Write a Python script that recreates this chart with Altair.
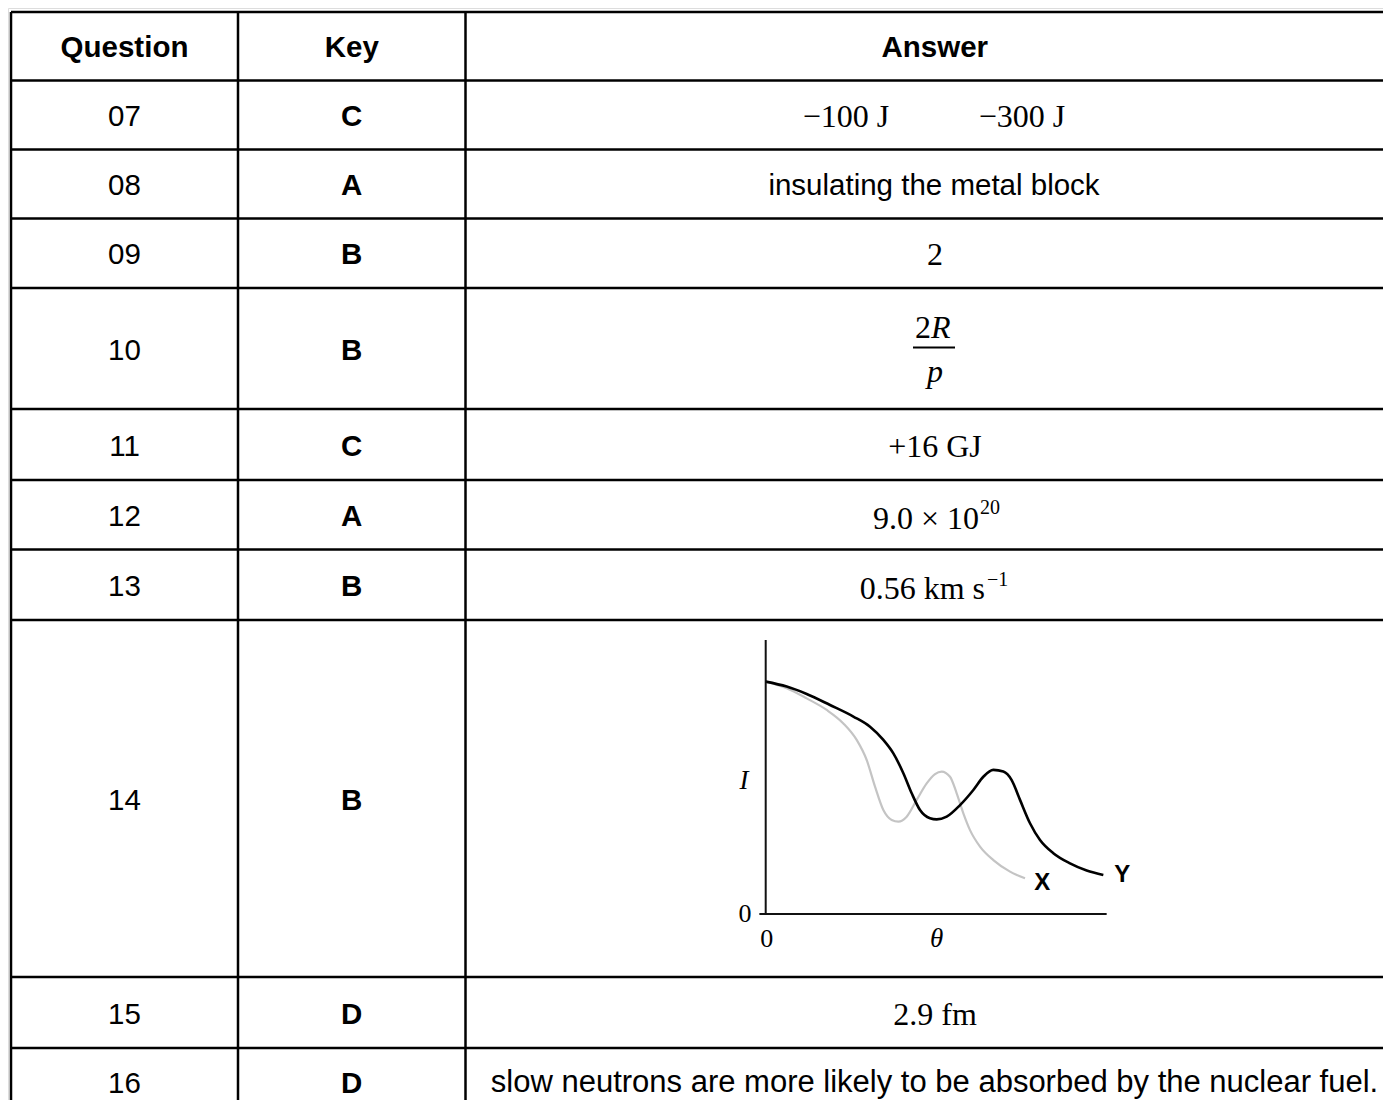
import altair as alt
import pandas as pd

# ---------------- content ----------------
headers = ["Question", "Key", "Answer"]
questions = ["07", "08", "09", "10", "11", "12", "13", "14", "15", "16"]
keys = ["C", "A", "B", "B", "C", "A", "B", "B", "D", "D"]
answer_sans = {1: "insulating the metal block",
               9: "slow neutrons are more likely to be absorbed by the nuclear fuel."}
answer_serif = {2: "2", 4: "+16 GJ", 8: "2.9 fm"}
pair_07 = ["\u2212100 J", "\u2212300 J"]
base_12, sup_12 = "9.0 \u00d7 10", "20"
base_13, sup_13 = "0.56 km s", "\u22121"
frac_num_a, frac_num_b, frac_den = "2", "R", "p"

# graph in row 14 (theta, intensity)
y_theta = [0, 0.63, 1.23, 1.93, 2.63, 3.13, 3.53, 3.83, 4.13, 4.38, 4.63, 4.93, 5.13,
           5.43, 5.83, 6.23, 6.53, 6.83, 7.13, 7.38, 7.63, 7.93, 8.23, 8.63, 9.13, 9.63, 10.13]
y_int = [0.845, 0.827, 0.800, 0.760, 0.718, 0.681, 0.633, 0.584, 0.512, 0.439, 0.378, 0.348,
         0.344, 0.354, 0.396, 0.451, 0.499, 0.524, 0.518, 0.487, 0.415, 0.330, 0.269, 0.221,
         0.184, 0.158, 0.142]
x_theta = [0, 0.63, 1.23, 1.83, 2.33, 2.73, 3.03, 3.28, 3.53, 3.78, 3.98, 4.23, 4.53, 4.83,
           5.08, 5.28, 5.53, 5.73, 5.93, 6.13, 6.43, 6.83, 7.33, 7.78]
x_int = [0.845, 0.821, 0.784, 0.742, 0.693, 0.633, 0.560, 0.463, 0.378, 0.342, 0.336, 0.354,
         0.415, 0.475, 0.509, 0.518, 0.499, 0.439, 0.366, 0.305, 0.245, 0.196, 0.154, 0.130]

# ---------------- layout ----------------
W, H = 1375, 1092
OFF = 8
col_edges = [11, 238, 465.5, 1404]
row_edges = [12, 80.5, 149.5, 218.5, 288, 409, 480, 549.5, 620, 977, 1048, 1116]
SANS, SERIF = "Liberation Sans", "Liberation Serif"
LW = 2.5
FS_SANS, FS_LONG, FS_SERIF, FS_SUP = 29.5, 31, 32, 20
TY = 2  # text baseline nudge

xs = alt.Scale(domain=[OFF, OFF + W], range=[0, W], nice=False, zero=False)
ys = alt.Scale(domain=[OFF, OFF + H], range=[0, H], nice=False, zero=False)

col_c = [(col_edges[i] + col_edges[i + 1]) / 2 for i in range(3)]
row_c = [(row_edges[i] + row_edges[i + 1]) / 2 + TY for i in range(len(row_edges) - 1)]
ans_x = 934


def X(f="x"):
    return alt.X(f"{f}:Q", scale=xs, axis=None)


def Y(f="y"):
    return alt.Y(f"{f}:Q", scale=ys, axis=None)


def text_layer(rows, font, size, weight="normal", style="normal", align="center"):
    df = pd.DataFrame(rows, columns=["t", "x", "y"])
    return alt.Chart(df).mark_text(font=font, fontSize=size, fontWeight=weight,
                                   fontStyle=style, align=align, baseline="middle",
                                   color="#000").encode(x=X(), y=Y(), text="t:N")


# grid lines
hl = pd.DataFrame({"y": [r for r in row_edges if r < OFF + H],
                   "x": col_edges[0], "x2": OFF + W})
vl = pd.DataFrame({"x": col_edges[:3], "y": row_edges[0], "y2": OFF + H})
hlines = alt.Chart(hl).mark_rule(strokeWidth=LW, color="#000").encode(
    x=X(), x2="x2:Q", y=Y())
vlines = alt.Chart(vl).mark_rule(strokeWidth=LW, color="#000").encode(
    x=X(), y=Y(), y2="y2:Q")

layers = [hlines, vlines]
layers.append(text_layer([(h, col_c[i], row_c[0]) for i, h in enumerate(headers)],
                         SANS, FS_SANS, weight="bold"))
layers.append(text_layer([(q, col_c[0], row_c[i + 1]) for i, q in enumerate(questions)],
                         SANS, FS_SANS))
layers.append(text_layer([(k, col_c[1], row_c[i + 1]) for i, k in enumerate(keys)],
                         SANS, FS_SANS, weight="bold"))
layers.append(text_layer([(answer_sans[1], ans_x, row_c[2])], SANS, FS_SANS))
layers.append(text_layer([(answer_sans[9], ans_x + 0.5, row_c[10] - 1)], SANS, FS_LONG))

serif_c = [(t, ans_x + 1, row_c[i + 1]) for i, t in answer_serif.items()]
serif_c += [(pair_07[0], ans_x - 88, row_c[1]), (pair_07[1], ans_x + 88, row_c[1])]
layers.append(text_layer(serif_c, SERIF, FS_SERIF))
layers.append(text_layer([(base_12, ans_x + 45, row_c[6] + 2), (base_13, ans_x + 51, row_c[7] + 2),
                          (frac_num_a, ans_x - 3, row_c[4] - 23)], SERIF, FS_SERIF, align="right"))
layers.append(text_layer([(sup_12, ans_x + 46, row_c[6] - 9), (sup_13, ans_x + 53, row_c[7] - 7)],
                         SERIF, FS_SUP, align="left"))
layers.append(text_layer([(frac_num_b, ans_x - 3, row_c[4] - 23)], SERIF, FS_SERIF,
                         style="italic", align="left"))
layers.append(text_layer([(frac_den, ans_x + 1, row_c[4] + 21)], SERIF, FS_SERIF, style="italic"))
bar = pd.DataFrame({"x": [ans_x - 21], "x2": [ans_x + 21], "y": [row_c[4] - 1 - TY]})
layers.append(alt.Chart(bar).mark_rule(strokeWidth=2, color="#000").encode(
    x=X(), x2="x2:Q", y=Y()))

table = alt.layer(*layers)

# ---------------- graph (own scales placed inside row 14) ----------------
gx = alt.Scale(domain=[0, 10], range=[765.7 - OFF, 765.7 - OFF + 333.3], nice=False, zero=False)
gy = alt.Scale(domain=[0, 1], range=[914 - OFF, 914 - OFF - 275], nice=False, zero=False)


def GX(f="th"):
    return alt.X(f"{f}:Q", scale=gx, axis=None)


def GY(f="i"):
    return alt.Y(f"{f}:Q", scale=gy, axis=None)


cx = pd.DataFrame({"th": x_theta, "i": x_int})
cy = pd.DataFrame({"th": y_theta, "i": y_int})
curve_x = alt.Chart(cx).mark_line(color="#c4c4c4", strokeWidth=2.2, interpolate="monotone").encode(
    x=GX(), y=GY())
curve_y = alt.Chart(cy).mark_line(color="#000", strokeWidth=2.6, interpolate="monotone").encode(
    x=GX(), y=GY())
ax_v = alt.Chart(pd.DataFrame({"th": [0], "i": [-0.004], "i2": [0.996]})).mark_rule(
    color="#111", strokeWidth=2).encode(x=GX(), y=GY(), y2="i2:Q")
ax_h = alt.Chart(pd.DataFrame({"th": [-0.19], "th2": [10.23], "i": [0]})).mark_rule(
    color="#111", strokeWidth=2).encode(x=GX(), x2="th2:Q", y=GY())


def glabel(rows, font, size, weight="normal", style="normal"):
    df = pd.DataFrame(rows, columns=["t", "th", "i"])
    return alt.Chart(df).mark_text(font=font, fontSize=size, fontWeight=weight,
                                   fontStyle=style, baseline="middle", color="#000").encode(
        x=GX(), y=GY(), text="t:N")


g_num = glabel([("0", -0.62, 0.0), ("0", 0.03, -0.092)], SERIF, 26)
g_ital = glabel([("I", -0.65, 0.485), ("\u03b8", 5.13, -0.092)], SERIF, 27, style="italic")
g_xy = glabel([("X", 8.3, 0.112), ("Y", 10.7, 0.143)], SANS, 24, weight="bold")

graph = alt.layer(curve_x, curve_y, ax_v, ax_h, g_num, g_ital, g_xy)

chart = alt.layer(table, graph).resolve_scale(x="independent", y="independent").properties(
    width=W, height=H, padding=0, autosize=alt.AutoSizeParams(type="none")
).configure_view(stroke=None).configure(background="white")

chart.save("out.html", embed_options={"renderer": "svg", "actions": False})
